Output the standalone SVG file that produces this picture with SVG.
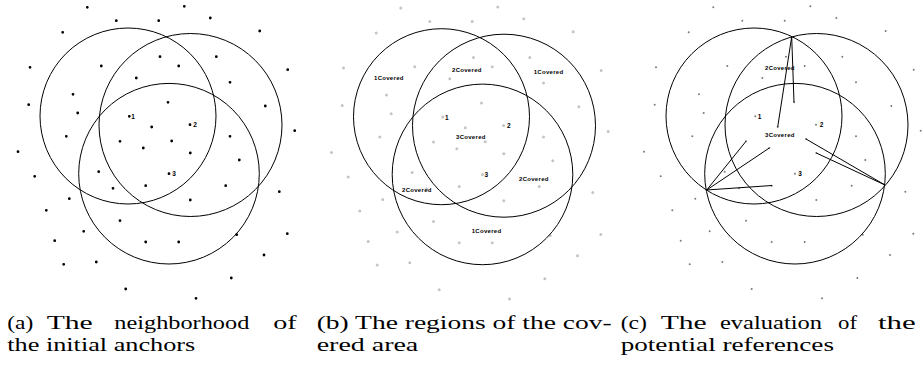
<svg xmlns="http://www.w3.org/2000/svg" xmlns:xlink="http://www.w3.org/1999/xlink" width="924" height="369" viewBox="0 0 924 369">
<style>
.circ{fill:none;stroke:#000;stroke-width:1}
.link{stroke:#000;stroke-width:1;fill:none}
.lbl{font-family:"Liberation Sans",Arial,sans-serif;font-size:6px;font-weight:bold;letter-spacing:0.3px;fill:#000}
.num{font-family:"Liberation Sans",Arial,sans-serif;font-size:6.5px;font-weight:bold;fill:#000}
.cap{font-family:"Liberation Serif","Times New Roman",serif;font-size:19.5px;fill:#000}
</style>
<defs>
<path id="pts" fill="none" stroke-linecap="round" d="M87.3 7.3h0M184.3 6.3h0M116.3 20.7h0M158.7 20.7h0M210.3 18h0M62.7 32.3h0M259.7 31h0M30 67.3h0M101.3 66h0M160 56.7h0M178.7 66h0M216.3 56.7h0M287.7 69.7h0M136.3 78h0M230 82.3h0M73 94.3h0M28.7 104.7h0M168 102.3h0M265.3 106h0M77.7 113h0M129.3 116.3h0M151.7 127h0M190 124.7h0M294.7 130.7h0M66.3 136.3h0M230 136.3h0M120 141.3h0M143.3 148h0M18 151.7h0M190.3 153h0M239.3 160h0M34.7 176.3h0M98.7 171.7h0M169 173.7h0M113 188.3h0M145.7 185.7h0M225.7 185.7h0M279.3 191.7h0M69.3 198.7h0M190.3 200h0M46.3 210.3h0M120 220.7h0M287.3 233.7h0M83.7 231.3h0M236.7 234.7h0M54.7 240.7h0M145.7 242h0M178.7 242h0M264 255h0M63.7 264.3h0M96.3 262h0M231.3 278h0M125.7 289h0M196 298.3h0"/>
<g id="circles">
<circle class="circ" cx="128" cy="116" r="88"/>
<circle class="circ" cx="190.5" cy="125" r="91.5"/>
<circle class="circ" cx="169" cy="173.7" r="90.3"/>
</g>
</defs>

<g id="panel-a">
<use xlink:href="#pts" href="#pts" stroke="#000" stroke-width="2.8"/>
<path d="M171.7 141h0" stroke="#000" stroke-width="2.8" stroke-linecap="round"/>
<use xlink:href="#circles" href="#circles"/>
<text class="num" x="131.3" y="118.7">1</text>
<text class="num" x="193.3" y="127">2</text>
<text class="num" x="172.3" y="176">3</text>
</g>

<g id="panel-b">
<g transform="translate(313.5,0.7)">
<use xlink:href="#pts" href="#pts" stroke="#c4c4c4" stroke-width="3"/>
<path d="M171.7 141h0" stroke="#c4c4c4" stroke-width="3" stroke-linecap="round"/>
<use xlink:href="#circles" href="#circles"/>
</g>
<text class="lbl" x="374" y="80.2">1Covered</text>
<text class="lbl" x="452" y="71.5">2Covered</text>
<text class="lbl" x="533.7" y="74.2">1Covered</text>
<text class="num" x="445" y="119.6">1</text>
<text class="num" x="507" y="128">2</text>
<text class="lbl" x="456" y="138.5">3Covered</text>
<text class="num" x="484.6" y="176.6">3</text>
<text class="lbl" x="519" y="181">2Covered</text>
<text class="lbl" x="402" y="192.2">2Covered</text>
<text class="lbl" x="471.7" y="232.5">1Covered</text>
</g>

<g id="panel-c">
<g transform="translate(626,0)">
<use xlink:href="#pts" href="#pts" stroke="#7a7a7a" stroke-width="2"/>
<use xlink:href="#circles" href="#circles"/>
</g>
<path d="M806 139h0" stroke="#7a7a7a" stroke-width="2" stroke-linecap="round"/>
<text class="lbl" x="765" y="70.3">2Covered</text>
<text class="num" x="757.8" y="119">1</text>
<text class="num" x="819.8" y="127">2</text>
<text class="lbl" x="765" y="137.2">3Covered</text>
<text class="num" x="798.3" y="176">3</text>
</g>

<g id="connectors">
<path class="link" d="M791.7 36.7L794 102.3M791.7 36.7L777.7 127"/>
<path class="link" d="M706.7 190L746 141.3M706.7 190L769.3 148M706.7 190L772 185.5"/>
<path class="link" d="M885 185L806 139M885 185L816.3 153"/>
</g>

<g id="captions">
<text class="cap" x="7.3" y="329" textLength="26" lengthAdjust="spacingAndGlyphs">(a)</text>
<text class="cap" x="46.7" y="329" textLength="46" lengthAdjust="spacingAndGlyphs">The</text>
<text class="cap" x="114.3" y="329" textLength="135" lengthAdjust="spacingAndGlyphs">neighborhood</text>
<text class="cap" x="273.3" y="329" textLength="23.4" lengthAdjust="spacingAndGlyphs">of</text>
<text class="cap" x="7.3" y="351" textLength="188" lengthAdjust="spacingAndGlyphs">the initial anchors</text>

<text class="cap" x="316.7" y="329" textLength="295" lengthAdjust="spacingAndGlyphs">(b) The regions of the cov-</text>
<text class="cap" x="316.7" y="351" textLength="101.6" lengthAdjust="spacingAndGlyphs">ered area</text>

<text class="cap" x="620.7" y="329" textLength="26.3" lengthAdjust="spacingAndGlyphs">(c)</text>
<text class="cap" x="660.7" y="329" textLength="46" lengthAdjust="spacingAndGlyphs">The</text>
<text class="cap" x="720" y="329" textLength="102" lengthAdjust="spacingAndGlyphs">evaluation</text>
<text class="cap" x="838" y="329" textLength="19" lengthAdjust="spacingAndGlyphs">of</text>
<text class="cap" x="878" y="329" textLength="37.7" lengthAdjust="spacingAndGlyphs">the</text>
<text class="cap" x="620.7" y="351" textLength="213.3" lengthAdjust="spacingAndGlyphs">potential references</text>
</g>
</svg>
